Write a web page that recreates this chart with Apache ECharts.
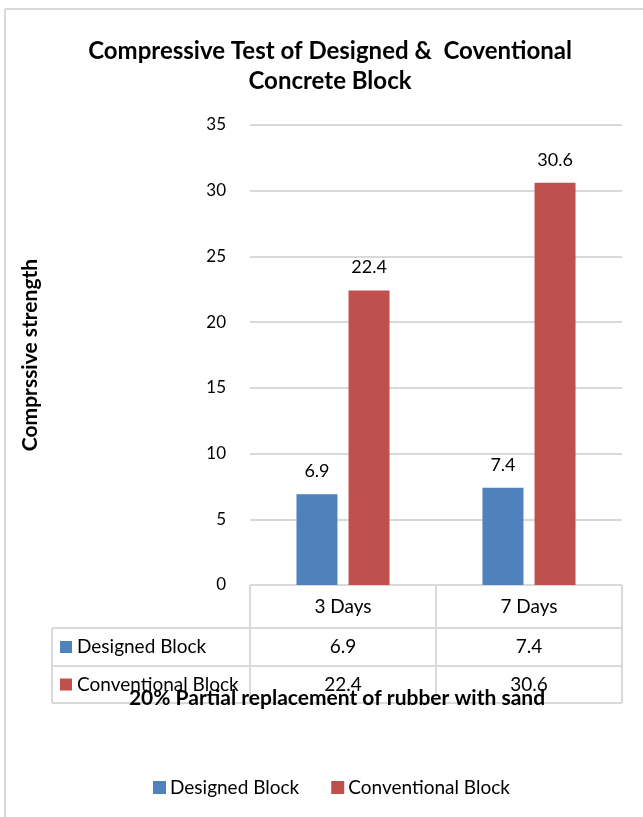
<!DOCTYPE html>
<html>
<head>
<meta charset="utf-8">
<script src="https://cdn.jsdelivr.net/npm/echarts@6/dist/echarts.min.js"></script>
<style>
    html, body {margin: 0; padding: 0; background: #fff;}
    #chart {width: 643px; height: 817px;}
</style>
</head>
<body>
<div id="chart"></div>
<script>
const categories = ['3 Days', '7 Days'];
const designed = [6.9, 7.4];
const conventional = [22.4, 30.6];
const seriesNames = ['Designed Block', 'Conventional Block'];
const colors = ['#4f81bd', '#c0504d'];
const yTicks = {min: 0, max: 35, interval: 5};

const FONT = 'Lato';
const gridLeft = 250, gridRight = 622, gridTop = 125, gridBottom = 585;
const lineColor = '#d9d9d9';

function tableGraphics() {
    // table lines (header row under the plot, two data rows with legend keys)
    const rows = [gridBottom, 628, 666, 703];
    const els = [];
    const line = (x1, y1, x2, y2) => ({
        type: 'line', silent: true,
        shape: {x1: x1, y1: y1, x2: x2, y2: y2},
        style: {stroke: lineColor, lineWidth: 2}
    });
    els.push(line(gridLeft, rows[0], gridRight, rows[0]));
    for (let i = 1; i < rows.length; i++) {
        els.push(line(52, rows[i], gridRight, rows[i]));
    }
    const mid = (gridLeft + gridRight) / 2;
    [gridLeft, mid, gridRight].forEach(function (x) {
        els.push(line(x, rows[0], x, rows[3]));
    });
    els.push(line(52, rows[1], 52, rows[3]));
    seriesNames.forEach(function (name, i) {
        const cy = (rows[i + 1] + rows[i + 2]) / 2;
        els.push({
            type: 'rect', silent: true,
            shape: {x: 60, y: cy - 6, width: 12, height: 12},
            style: {fill: colors[i]}
        });
        els.push({
            type: 'text', silent: true,
            x: 77, y: cy,
            style: {text: name, font: '19px ' + FONT, fill: '#000', textVerticalAlign: 'middle'}
        });
    });
    // frame of the chart area
    els.push(line(5, 9, 643, 9));
    els.push(line(5, 9, 5, 817));
    els.push({
        type: 'text', silent: true,
        x: 337, y: 698,
        style: {
            text: '20% Partial replacement of rubber with sand',
            font: 'bold 21px ' + FONT, fill: '#000',
            textAlign: 'center', textVerticalAlign: 'middle'
        }
    });
    return els;
}

const myChart = echarts.init(document.getElementById('chart'));
const option = {
    backgroundColor: '#fff',
    animation: false,
    textStyle: {fontFamily: FONT},
    title: {
        text: 'Compressive Test of Designed &  Coventional\nConcrete Block',
        left: 325,
        top: 31,
        textAlign: 'center',
        textStyle: {fontSize: 24, fontWeight: 'bold', color: '#000', lineHeight: 30, fontFamily: FONT}
    },
    legend: {
        data: seriesNames,
        top: 778,
        left: 153,
        icon: 'rect',
        itemWidth: 13,
        itemHeight: 13,
        itemGap: 32,
        padding: 0,
        textStyle: {fontSize: 19, color: '#000', fontFamily: FONT, padding: [0, 0, 0, -1]}
    },
    grid: {
        left: gridLeft,
        right: 643 - gridRight,
        top: gridTop,
        bottom: 817 - gridBottom,
        containLabel: false
    },
    xAxis: [
        {
            type: 'category',
            data: categories,
            axisLine: {show: false},
            axisTick: {show: false},
            axisLabel: {fontSize: 19, color: '#000', margin: 12}
        },
        {
            type: 'category',
            data: categories,
            position: 'bottom',
            offset: 40,
            axisLine: {show: false},
            axisTick: {show: false},
            axisLabel: {
                fontSize: 19, color: '#000', margin: 12,
                formatter: function (v, i) { return String(designed[i]); }
            }
        },
        {
            type: 'category',
            data: categories,
            position: 'bottom',
            offset: 78,
            axisLine: {show: false},
            axisTick: {show: false},
            axisLabel: {
                fontSize: 19, color: '#000', margin: 12,
                formatter: function (v, i) { return String(conventional[i]); }
            }
        }
    ],
    yAxis: {
        type: 'value',
        min: yTicks.min,
        max: yTicks.max,
        interval: yTicks.interval,
        name: 'Comprssive strength',
        nameLocation: 'middle',
        nameGap: 209,
        nameTextStyle: {fontSize: 21, fontWeight: 'bold', color: '#000', fontFamily: FONT},
        axisLine: {show: false},
        axisTick: {show: false},
        axisLabel: {fontSize: 17, color: '#000', margin: 24},
        splitLine: {lineStyle: {color: lineColor, width: 2}}
    },
    series: [
        {
            name: seriesNames[0],
            type: 'bar',
            data: designed,
            barWidth: 41,
            barGap: '27%',
            itemStyle: {color: colors[0]},
            label: {show: true, position: 'top', distance: 14, fontSize: 18, color: '#000'}
        },
        {
            name: seriesNames[1],
            type: 'bar',
            data: conventional,
            barWidth: 41,
            barGap: '27%',
            itemStyle: {color: colors[1]},
            label: {show: true, position: 'top', distance: 14, fontSize: 18, color: '#000'}
        }
    ],
    graphic: tableGraphics()
};
myChart.setOption(option);
</script>
</body>
</html>
